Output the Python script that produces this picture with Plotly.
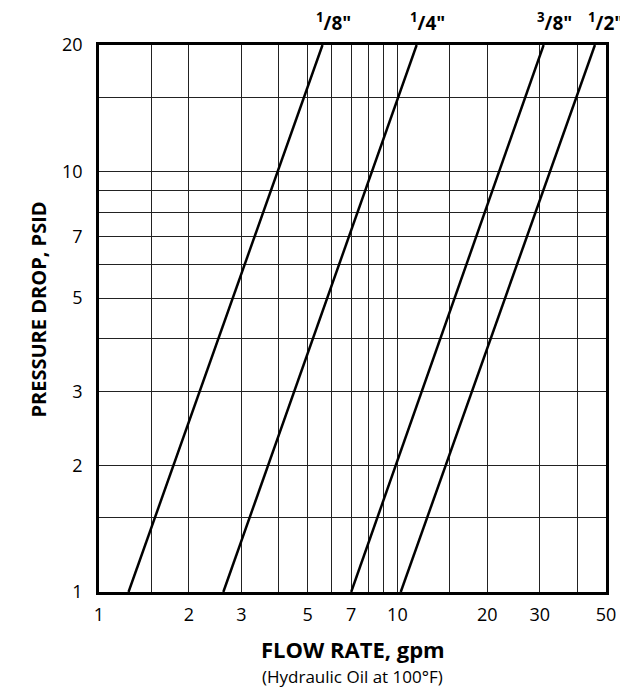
import math
import plotly.graph_objects as go

# Data (log-log straight lines, dp ~ Q^2)
sizes = ['1/8"', '1/4"', '3/8"', '1/2"']
size_labels = ['<sup>1</sup>/8"', '<sup>1</sup>/4"', '<sup>3</sup>/8"', '<sup>1</sup>/2"']
flow_at_1psi = [1.256, 2.61, 7.0, 10.26]
flow_at_20psi = [5.61, 11.6, 30.9, 45.9]
pressure_ends = [1, 20]

x_grid = [1, 1.5, 2, 3, 4, 5, 6, 7, 8, 9, 10, 15, 20, 30, 40, 50]
x_labels = ['1', ' ', '2', '3', ' ', '5', ' ', '7', ' ', ' ', '10', ' ', '20', '30', ' ', '50']
y_grid = [1, 1.5, 2, 3, 4, 5, 6, 7, 8, 9, 10, 15, 20]
y_labels = ['1', ' ', '2', '3', ' ', '5', ' ', '7', ' ', ' ', '10', ' ', '20']

FONT = "Open Sans"
PAGE_OFFSET = 8  # default body margin of the written html page

fig = go.Figure()
for name, q1, q20 in zip(sizes, flow_at_1psi, flow_at_20psi):
    fig.add_trace(go.Scatter(
        x=[q1, q20], y=pressure_ends, mode='lines', name=name,
        line=dict(color='black', width=2.5), showlegend=False,
    ))

for lab, q20 in zip(size_labels, flow_at_20psi):
    fig.add_annotation(
        x=math.log10(q20), xref='x', y=1, yref='paper',
        text=lab, showarrow=False, xanchor='left', yanchor='bottom',
        xshift=-9, yshift=7,
        font=dict(family=FONT, size=19, color='black', weight='bold'),
    )

fig.add_annotation(
    x=0.5, xref='paper', y=0, yref='paper', text='FLOW RATE, gpm',
    showarrow=False, xanchor='center', yanchor='middle', yshift=-57,
    font=dict(family=FONT, size=22, color='black', weight='bold'),
)
fig.add_annotation(
    x=0.5, xref='paper', y=0, yref='paper', text='(Hydraulic Oil at 100°F)',
    showarrow=False, xanchor='center', yanchor='middle', yshift=-84,
    font=dict(family=FONT, size=17, color='black'),
)
fig.add_annotation(
    x=0, xref='paper', y=0.5, yref='paper', text='PRESSURE DROP, PSID',
    showarrow=False, xanchor='center', yanchor='middle', textangle=-90,
    xshift=-61, yshift=9,
    font=dict(family=FONT, size=20, color='black', weight='bold'),
)

fig.update_layout(
    width=628 - PAGE_OFFSET, height=692 - PAGE_OFFSET,
    margin=dict(l=99 - PAGE_OFFSET, r=17, t=45 - PAGE_OFFSET, b=100),
    paper_bgcolor='white', plot_bgcolor='white',
    font=dict(family=FONT, size=18, color='black'),
)
fig.update_xaxes(
    type='log', range=[0, math.log10(50)],
    tickmode='array', tickvals=x_grid, ticktext=x_labels, tickangle=0,
    showgrid=True, gridcolor='#222', gridwidth=1,
    showline=True, linecolor='black', linewidth=2.5, mirror=True,
    ticks='', zeroline=False, tickfont=dict(family=FONT, size=18),
    ticklabelstandoff=5,
)
fig.update_yaxes(
    type='log', range=[0, math.log10(20)],
    tickmode='array', tickvals=y_grid, ticktext=y_labels,
    showgrid=True, gridcolor='#222', gridwidth=1,
    showline=True, linecolor='black', linewidth=2.5, mirror=True,
    ticks='', zeroline=False, tickfont=dict(family=FONT, size=18),
    ticklabelstandoff=10,
)

fig.write_html("out.html")
